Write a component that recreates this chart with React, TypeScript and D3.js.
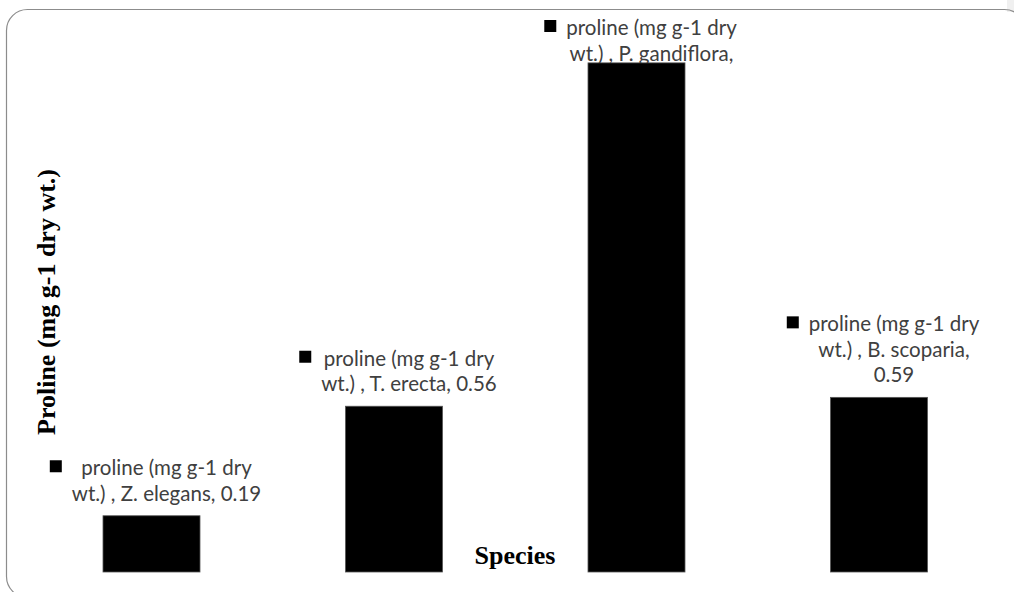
import React, { useEffect, useRef } from "react";
import * as d3 from "d3";

const seriesName = "proline (mg g-1 dry wt.)";
const categories = ["Z. elegans", "T. erecta", "P. gandiflora", "B. scoparia"];
const values = [0.19, 0.56, 1.72, 0.59];
const yTitle = "Proline (mg g-1 dry wt.)";
const xTitle = "Species";

const W = 1014;
const H = 592;

export default function App() {
  const ref = useRef<SVGSVGElement | null>(null);

  useEffect(() => {
    const svg = d3.select(ref.current);
    svg.selectAll("*").remove();

    // chart frame
    svg
      .append("rect")
      .attr("x", 1007)
      .attr("y", 0)
      .attr("width", 7)
      .attr("height", 12)
      .attr("fill", "#f0f0f0");
    svg
      .append("rect")
      .attr("x", 6.5)
      .attr("y", 9.5)
      .attr("width", 1019)
      .attr("height", 588)
      .attr("rx", 21)
      .attr("ry", 21)
      .attr("fill", "none")
      .attr("stroke", "#8c8c8c")
      .attr("stroke-width", 1.2);

    const x = d3
      .scaleBand<string>()
      .domain(categories)
      .range([30.25, 1000.25])
      .paddingInner(0.6)
      .paddingOuter(0.3);
    const y = d3.scaleLinear().domain([0, 2]).range([572, -20]);

    const labelFont = "Lato, 'Noto Sans', sans-serif";
    const labelSize = 20.5;
    const lineH = 25.5;
    const minFirstCenter = 28;

    // data labels (drawn beneath bars)
    const labels = svg.append("g");
    categories.forEach((cat, i) => {
      const v = values[i];
      const words1 = "proline (mg g-1 dry";
      const rest = seriesName.slice(words1.length).trim();
      const line2Full = `${rest} , ${cat}, ${v.toFixed(2)}`;
      const lines =
        line2Full.length > 23
          ? [words1, `${rest} , ${cat},`, v.toFixed(2)]
          : [words1, line2Full];
      const cx = (x(cat) as number) + x.bandwidth() / 2;
      const textCx = cx + 15;
      const barTop = y(v);
      let lastCenter = barTop - 22;
      let firstCenter = lastCenter - (lines.length - 1) * lineH;
      if (firstCenter < minFirstCenter) {
        firstCenter = minFirstCenter;
      }
      const g = labels.append("g");
      const texts = lines.map((ln, k) =>
        g
          .append("text")
          .attr("x", textCx)
          .attr("y", firstCenter + k * lineH + 7)
          .attr("text-anchor", "middle")
          .attr("font-family", labelFont)
          .attr("font-size", labelSize)
          .attr("fill", "#404040")
          .text(ln)
      );
      let maxW = 0;
      texts.forEach((t) => {
        const n = t.node() as SVGTextElement;
        maxW = Math.max(maxW, n.getComputedTextLength());
      });
      g.append("rect")
        .attr("x", textCx - maxW / 2 - 22)
        .attr("y", firstCenter - 8)
        .attr("width", 12)
        .attr("height", 12)
        .attr("fill", "#000");
    });

    // bars
    svg
      .append("g")
      .selectAll("rect")
      .data(values)
      .join("rect")
      .attr("x", (_d, i) => x(categories[i]) as number)
      .attr("y", (d) => y(d))
      .attr("width", x.bandwidth())
      .attr("height", (d) => y(0) - y(d))
      .attr("fill", "#000")
      .attr("stroke", "#555")
      .attr("stroke-width", 0.8);

    // axis titles
    svg
      .append("text")
      .attr("transform", `translate(55, 302) rotate(-90)`)
      .attr("text-anchor", "middle")
      .attr("font-family", "'Liberation Serif', 'Times New Roman', serif")
      .attr("font-weight", "bold")
      .attr("font-size", 26)
      .attr("fill", "#000")
      .text(yTitle);

    svg
      .append("text")
      .attr("x", 515)
      .attr("y", 564)
      .attr("text-anchor", "middle")
      .attr("font-family", "'Liberation Serif', 'Times New Roman', serif")
      .attr("font-weight", "bold")
      .attr("font-size", 26)
      .attr("fill", "#000")
      .text(xTitle);
  }, []);

  return (
    <svg
      ref={ref}
      width={W}
      height={H}
      style={{ position: "absolute", left: 0, top: 0, background: "#fff" }}
    />
  );
}
